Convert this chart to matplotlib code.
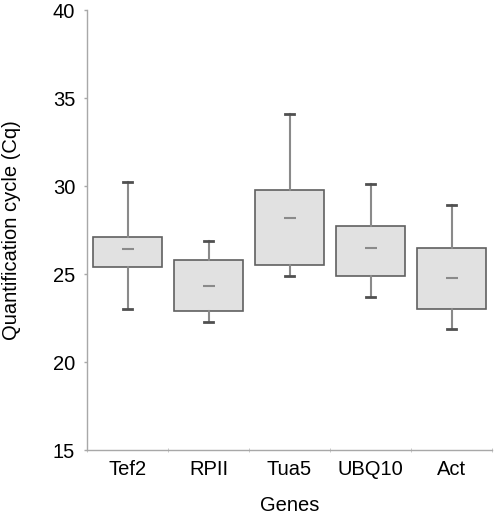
import numpy as np
import matplotlib
matplotlib.use('Agg')
import matplotlib.pyplot as plt

plt.rcParams['font.family'] = ['Liberation Sans', 'DejaVu Sans']

# Cq values
genes = ['Tef2', 'RPII', 'Tua5', 'UBQ10', 'Act']
whisker_low = [23.0, 22.3, 24.9, 23.7, 21.9]
box_low = [25.4, 22.9, 25.5, 24.9, 23.0]
medians = [26.4, 24.3, 28.2, 26.5, 24.8]
box_high = [27.1, 25.8, 29.8, 27.7, 26.5]
whisker_high = [30.2, 26.9, 34.1, 30.1, 28.9]

stats = []
for i in range(len(genes)):
    stats.append({'label': genes[i], 'whislo': whisker_low[i], 'q1': box_low[i],
                  'med': medians[i], 'q3': box_high[i], 'whishi': whisker_high[i],
                  'fliers': []})

fig = plt.figure(figsize=(4.98, 5.18), dpi=100)
ax = fig.add_axes([87/498, 68/518, 405/498, 440/518])

pos = np.arange(1, len(genes) + 1)
ax.bxp(stats, positions=pos, widths=0.86, patch_artist=True, showfliers=False,
       capwidths=0.1,
       boxprops=dict(facecolor='#e1e1e1', edgecolor='#606060', linewidth=1.2),
       whiskerprops=dict(color='#8a8a8a', linewidth=1.5),
       capprops=dict(color='#505050', linewidth=2.0),
       medianprops=dict(visible=False))

# short dash for the median, like the original
ax.plot(pos, medians, linestyle='none', marker='_', markersize=8,
        markeredgewidth=1.5, color='#8a8a8a')

ax.set_ylim(15, 40)
ax.set_yticks([15, 20, 25, 30, 35, 40])
ax.set_xlim(0.5, len(genes) + 0.5)
ax.set_xticks(pos)
ax.set_xticklabels(genes)
ax.set_xticks(np.arange(0.5, len(genes) + 1), minor=True)

for s in ['top', 'right']:
    ax.spines[s].set_visible(False)
for s in ['left', 'bottom']:
    ax.spines[s].set_color('#a8a8a8')
    ax.spines[s].set_linewidth(1.0)

ax.tick_params(axis='y', length=2.5, width=1, color='#a8a8a8', pad=6, labelsize=14.5)
ax.tick_params(axis='x', which='major', length=0, pad=7, labelsize=14.5)
ax.tick_params(axis='x', which='minor', length=3, direction='inout', color='#c0c0c0')

ax.set_ylabel('Quantification cycle (Cq)', fontsize=14.5)
ax.yaxis.set_label_coords(-0.163, 0.5)
ax.set_xlabel('Genes', fontsize=14.5)
ax.xaxis.set_label_coords(0.5, -0.105)

fig.savefig('out.png', dpi=100)
